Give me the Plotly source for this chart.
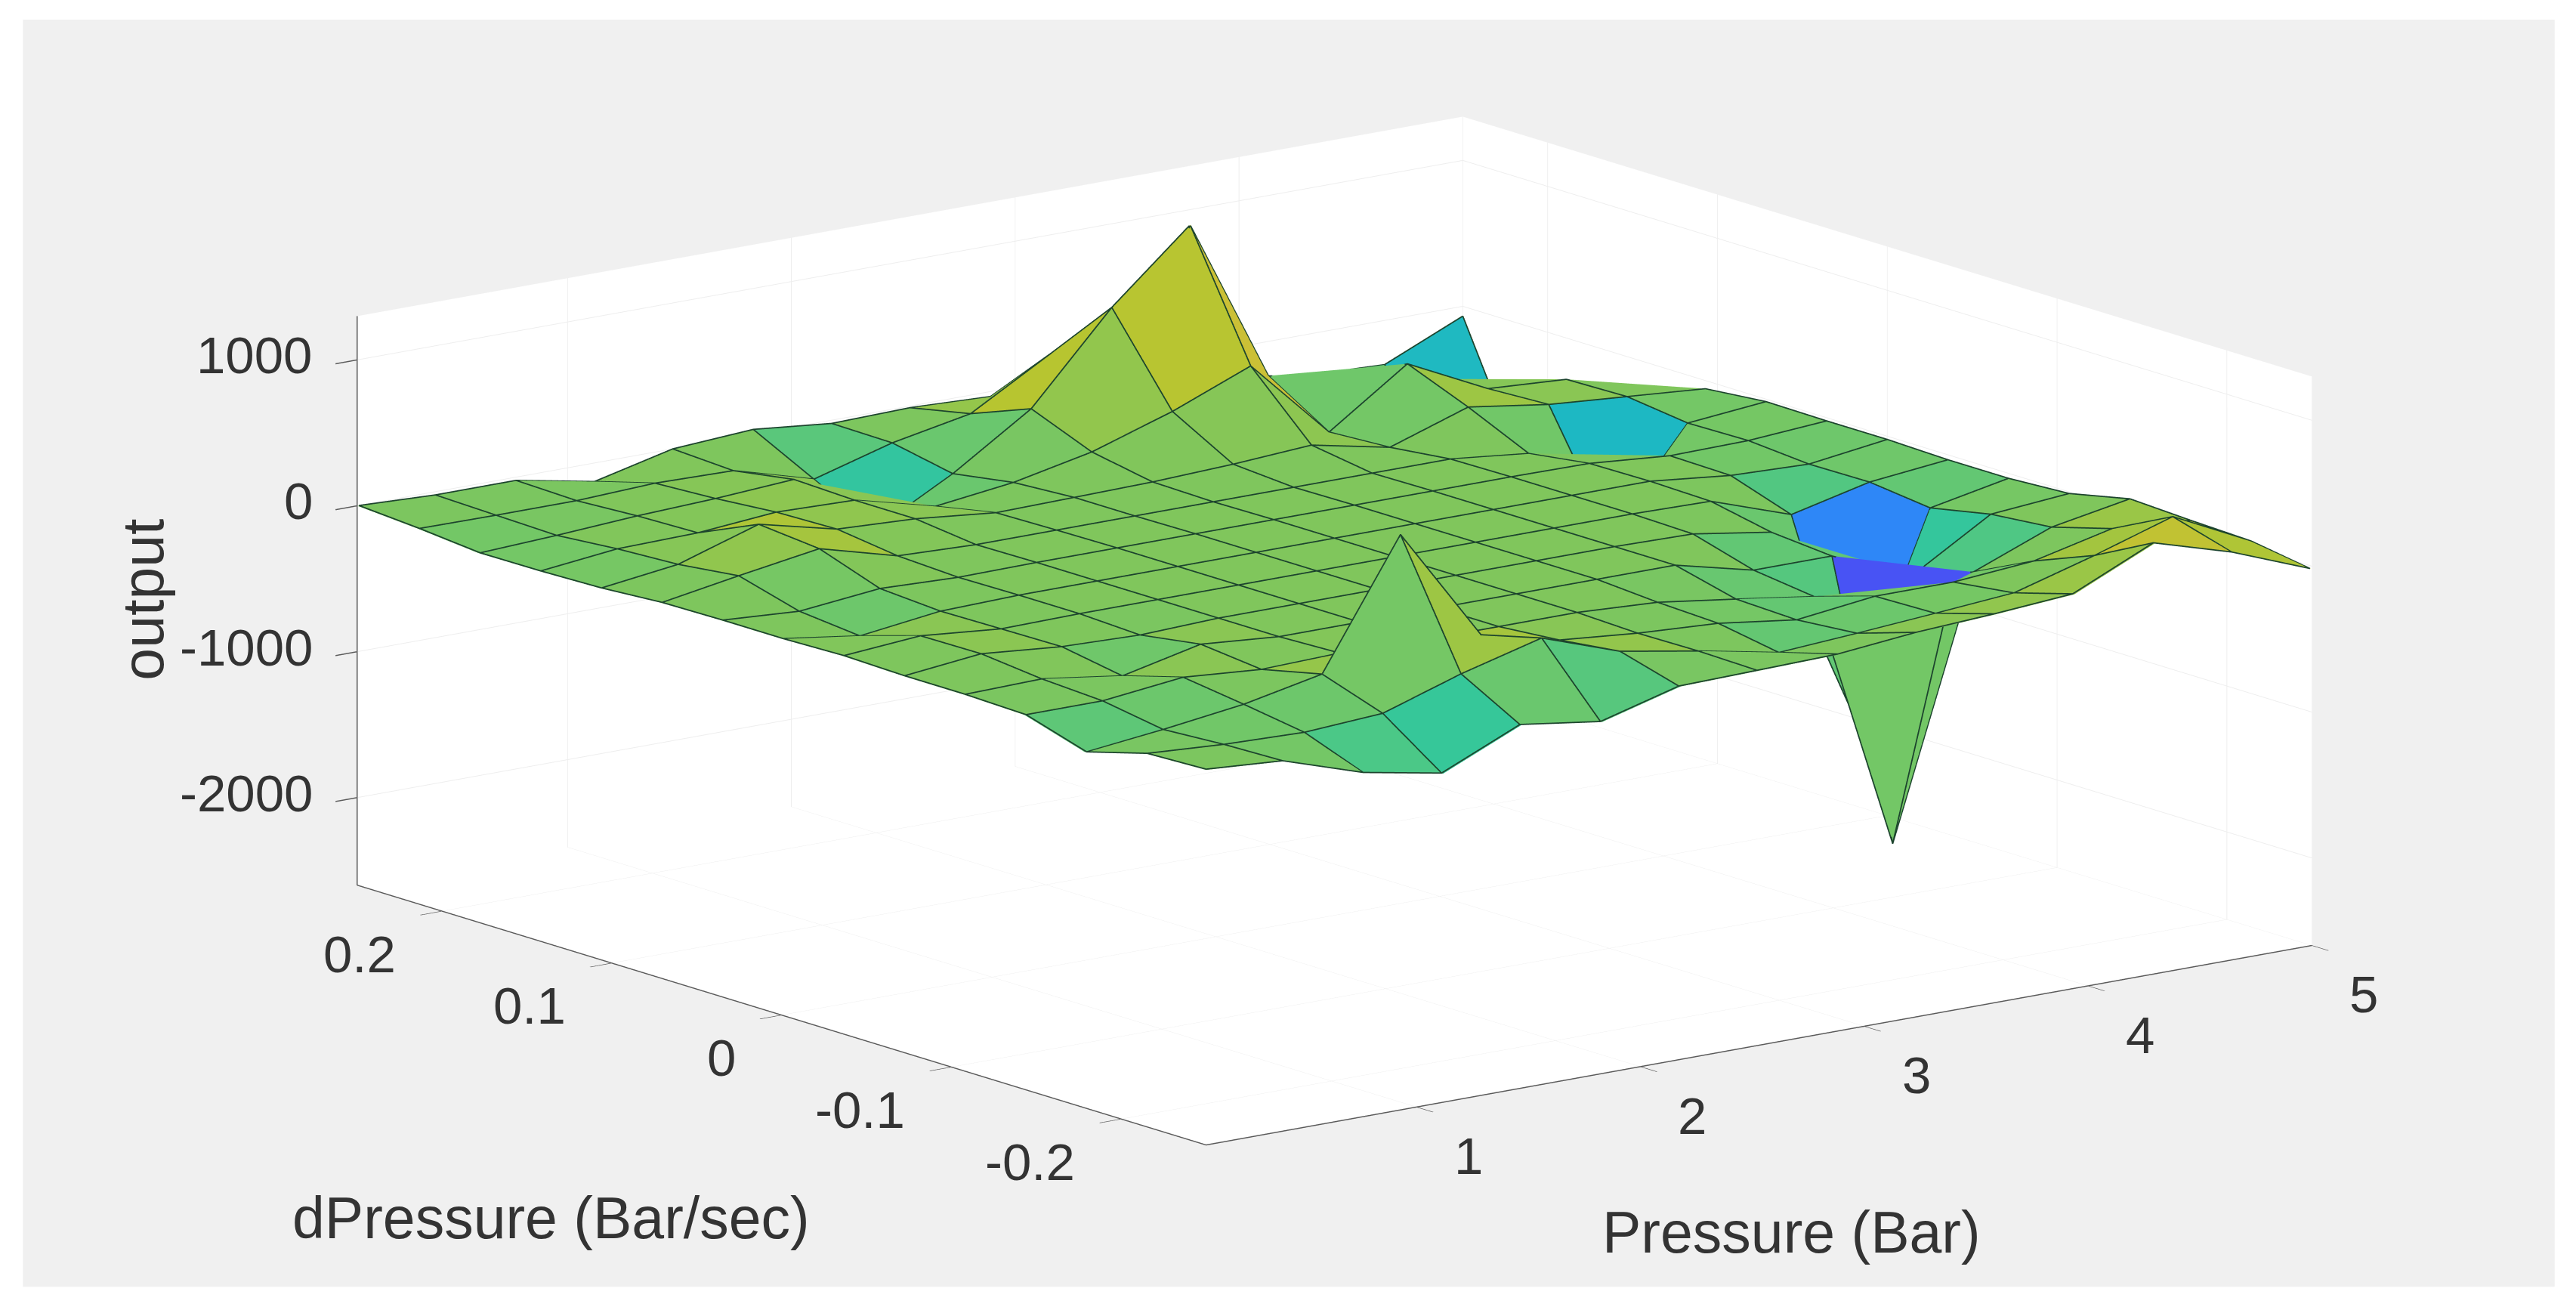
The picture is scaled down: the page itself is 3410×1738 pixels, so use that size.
import plotly.graph_objects as go

WIDTH, HEIGHT = 3410, 1738

x_vals = [0.06, 0.41, 0.77, 1.12, 1.47, 1.83, 2.18, 2.53, 2.89, 3.24, 3.59, 3.94, 4.30, 4.65, 5.0]
y_vals = [0.25, 0.2143, 0.1786, 0.1429, 0.1071, 0.0714, 0.0357, 0.0, -0.0357, -0.0714, -0.1071, -0.1429, -0.1786, -0.2143, -0.25]

# rows follow y_vals, columns follow x_vals
z_rows = [
    [0, -22, -22, -127, 0, 34, -22, -11, -34, -100, -100, -200, -280, -303, -67],
    [-30, -34, -34, -11, -22, -180, -28, 75, 390, -50, -60, -62, -140, -700, -1000],
    [-70, -45, -11, 11, 45, -400, -112, 236, 831, 1300, 168, 50, -50, -250, -500],
    [-67, -10, 0, 45, 30, -112, -45, 67, 245, 460, -90, 281, 11, -22, -250],
    [-56, 11, 186, 56, 30, -28, -20, -11, 11, 45, -67, 112, 30, -13, -56],
    [-28, 60, 146, 0, -20, -20, -20, -20, -20, -20, -20, -79, -720, -67, -17],
    [-22, -56, 0, -20, -15, -15, -15, -15, -15, -15, -15, -20, -67, -60, -22],
    [-22, -98, -28, -15, -15, -15, -15, -15, -15, -15, -15, -15, -75, -94, -22],
    [-11, 30, -22, -15, -15, -15, -15, -15, -15, -15, -15, -25, -216, -90, -34],
    [-22, 34, -17, -34, -15, -15, -15, -15, -15, -15, -25, -110, -1440, -140, -34],
    [-22, -11, -90, 30, -15, -15, -15, -15, -15, -15, -146, -146, -378, -56, -11],
    [-34, -34, 28, -15, 0, -15, -15, -15, -45, -120, -200, -1990, -228, -17, 80],
    [-162, -103, -30, 80, 940, 153, 20, -30, -62, -135, -70, -70, -25, 100, 60],
    [-45, -78, -95, -62, 112, 258, 70, -25, -135, -100, -60, -17, 140, 309, 45],
    [-30, -67, -247, -348, -112, -191, -45, -34, -22, 30, 60, 100, 350, 190, -20],
]

x_ticks = [1, 2, 3, 4, 5]
y_ticks = [-0.2, -0.1, 0, 0.1, 0.2]
z_ticks = [-2000, -1000, 0, 1000]
x_title = "Pressure (Bar)"
y_title = "dPressure (Bar/sec)"
z_title = "output"

parula = [
    (0.0, (62, 38, 168)), (0.1, (72, 82, 244)), (0.2, (46, 135, 247)),
    (0.3, (18, 177, 214)), (0.4, (55, 200, 151)), (0.5, (182, 197, 48)),
    (0.6, (230, 186, 61)), (0.7, (254, 195, 56)), (0.8, (250, 212, 46)),
    (0.9, (245, 230, 33)), (1.0, (249, 251, 21)),
]
C_MIN, C_MAX = -2555, 3000
X_RANGE = [0.06, 5]
Y_RANGE = [-0.25, 0.25]
Z_RANGE = [-2600, 1300]
EYE = dict(x=-1.184, y=-1.542, z=0.47)
ASPECT = dict(x=2.21, y=2.21, z=0.928)


def colour(v):
    t = min(1, max(0, (v - C_MIN) / (C_MAX - C_MIN)))
    for (a, ca), (b, cb) in zip(parula, parula[1:]):
        if t <= b:
            f = (t - a) / (b - a)
            return "rgb(%d,%d,%d)" % tuple(round(p + (q - p) * f) for p, q in zip(ca, cb))
    return "rgb(249,251,21)"


nx, ny = len(x_vals), len(y_vals)
vx, vy, vz, ti, tj, tk, fc = [], [], [], [], [], [], []
for r in range(ny):
    for c in range(nx):
        vx.append(x_vals[c]); vy.append(y_vals[r]); vz.append(z_rows[r][c])
for r in range(ny - 1):
    for c in range(nx - 1):
        a = r * nx + c
        b = a + 1
        d = a + nx
        e = d + 1
        col = colour(z_rows[r + 1][c])
        # each cell folds along its flatter diagonal
        if abs(vz[a] - vz[e]) <= abs(vz[b] - vz[d]):
            ti += [a, a]; tj += [b, e]; tk += [e, d]
        else:
            ti += [a, b]; tj += [b, e]; tk += [d, d]
        fc += [col, col]

# grid lines sit a hair towards the camera so the faces do not swallow them
NUDGE = 0.006
off_x = EYE["x"] * NUDGE / ASPECT["x"] * (X_RANGE[1] - X_RANGE[0]) / 2
off_y = EYE["y"] * NUDGE / ASPECT["y"] * (Y_RANGE[1] - Y_RANGE[0]) / 2
off_z = EYE["z"] * NUDGE / ASPECT["z"] * (Z_RANGE[1] - Z_RANGE[0]) / 2


def nudged(c, r):
    return (max(X_RANGE[0] + 1e-4, x_vals[c] + off_x),
            max(Y_RANGE[0] + 1e-5, y_vals[r] + off_y),
            z_rows[r][c] + off_z)


lx, ly, lz = [], [], []
for r in range(ny):
    for c in range(nx):
        p = nudged(c, r)
        lx.append(p[0]); ly.append(p[1]); lz.append(p[2])
    lx.append(None); ly.append(None); lz.append(None)
for c in range(nx):
    for r in range(ny):
        p = nudged(c, r)
        lx.append(p[0]); ly.append(p[1]); lz.append(p[2])
    lx.append(None); ly.append(None); lz.append(None)

fig = go.Figure()
fig.add_trace(go.Mesh3d(x=vx, y=vy, z=vz, i=ti, j=tj, k=tk, facecolor=fc, flatshading=True,
                        lighting=dict(ambient=1, diffuse=0, specular=0, roughness=1, fresnel=0),
                        hoverinfo="skip", showscale=False))
fig.add_trace(go.Scatter3d(x=lx, y=ly, z=lz, mode="lines",
                           line=dict(color="rgb(28,68,45)", width=3.5),
                           hoverinfo="skip", showlegend=False))

TICK_FONT = dict(family="Liberation Sans, Arial, sans-serif", size=69, color="#333333")
TITLE_FONT = dict(family="Liberation Sans, Arial, sans-serif", size=77, color="#333333")

axis_style = dict(showbackground=True, backgroundcolor="white", gridcolor="#eeeeee", gridwidth=2,
                  showline=True, linecolor="#5a5a5a", linewidth=3, zeroline=False,
                  ticks="outside", ticklen=36, tickcolor="#5a5a5a", tickwidth=3,
                  showticklabels=False, showspikes=False, title=dict(text=""))

scene_ann = []
for v in x_ticks:
    scene_ann.append(dict(x=v, y=-0.25, z=-2600, text=str(v), showarrow=False, font=TICK_FONT,
                          xanchor="center", yanchor="middle", xshift=69, yshift=-65))
for v in y_ticks:
    scene_ann.append(dict(x=0.0605, y=v, z=-2600, text=str(v), showarrow=False, font=TICK_FONT,
                          xanchor="right", yanchor="middle", xshift=-59, yshift=-57))
for v in z_ticks:
    scene_ann.append(dict(x=0.0605, y=0.2495, z=v, text=str(v), showarrow=False, font=TICK_FONT,
                          xanchor="right", yanchor="middle", xshift=-58, yshift=6))

fig.update_layout(
    width=WIDTH, height=HEIGHT, margin=dict(l=0, r=0, t=0, b=0), autosize=False,
    paper_bgcolor="white", showlegend=False,
    shapes=[dict(type="rect", xref="paper", yref="paper", x0=0.0089, x1=0.9917, y0=0.02, y1=0.985,
                 fillcolor="#f0f0f0", line_width=0, layer="below")],
    annotations=[
        dict(text=x_title, x=0.6955, y=0.0615, xref="paper", yref="paper", showarrow=False, font=TITLE_FONT,
             xanchor="center", yanchor="middle"),
        dict(text=y_title, x=0.2138, y=0.0725, xref="paper", yref="paper", showarrow=False, font=TITLE_FONT,
             xanchor="center", yanchor="middle"),
        dict(text=z_title, x=0.0555, y=0.5435, xref="paper", yref="paper", showarrow=False, font=TITLE_FONT,
             textangle=-90, xanchor="center", yanchor="middle"),
    ],
    scene=dict(
        domain=dict(x=[0.036, 1.0], y=[0.039, 1.0]),
        bgcolor="rgba(0,0,0,0)",
        aspectmode="manual", aspectratio=ASPECT,
        camera=dict(eye=EYE, up=dict(x=0, y=0, z=1),
                    center=dict(x=0, y=0, z=0), projection=dict(type="orthographic")),
        xaxis=dict(range=X_RANGE, tickvals=x_ticks, **axis_style),
        yaxis=dict(range=Y_RANGE, tickvals=y_ticks, **axis_style),
        zaxis=dict(range=Z_RANGE, tickvals=z_ticks, **axis_style),
        annotations=scene_ann,
    ),
)

fig.write_html("out.html", config=dict(displayModeBar=False),
               post_script="document.body.style.margin='0';document.body.style.overflow='hidden';")
